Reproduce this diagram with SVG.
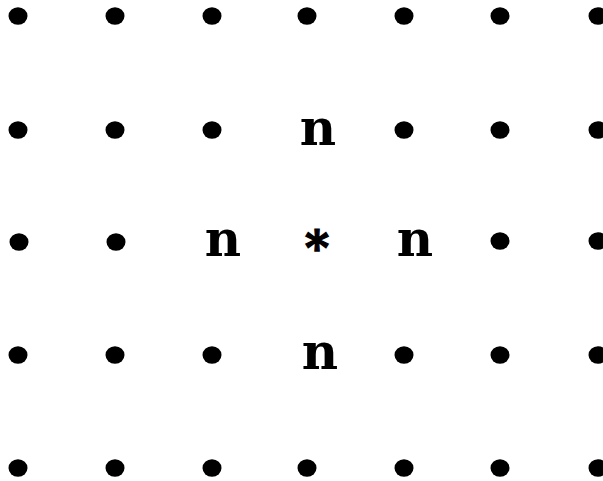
<svg xmlns="http://www.w3.org/2000/svg" width="603" height="481" viewBox="0 0 603 481">
<style>
.d{fill:#000}
.t{font-family:"DejaVu Serif","Liberation Serif",serif;font-weight:bold;font-size:50px;fill:#000;text-anchor:middle}
.a{font-family:"DejaVu Serif","Liberation Serif",serif;font-weight:bold;font-size:46px;fill:#000;text-anchor:middle;stroke:#000;stroke-width:1.5}
</style>
<rect width="603" height="481" fill="#fff"/>
<defs><ellipse id="dot" rx="9.5" ry="8.7" class="d"/></defs>
<g id="dots">
<use href="#dot" x="18" y="16"/><use href="#dot" x="115" y="16"/><use href="#dot" x="212" y="16"/><use href="#dot" x="307" y="16"/><use href="#dot" x="404" y="16"/><use href="#dot" x="500" y="16"/><use href="#dot" x="598" y="16"/>
<use href="#dot" x="18" y="130"/><use href="#dot" x="115" y="130"/><use href="#dot" x="212" y="130"/><use href="#dot" x="404" y="130"/><use href="#dot" x="500" y="130"/><use href="#dot" x="598" y="130"/>
<use href="#dot" x="19" y="242"/><use href="#dot" x="116" y="242"/><use href="#dot" x="500" y="241"/><use href="#dot" x="598" y="241"/>
<use href="#dot" x="18" y="355"/><use href="#dot" x="115" y="355"/><use href="#dot" x="212" y="355"/><use href="#dot" x="404" y="355"/><use href="#dot" x="500" y="355"/><use href="#dot" x="598" y="355"/>
<use href="#dot" x="18" y="468"/><use href="#dot" x="115" y="468"/><use href="#dot" x="212" y="468"/><use href="#dot" x="307" y="468"/><use href="#dot" x="404" y="468"/><use href="#dot" x="500" y="468"/><use href="#dot" x="598" y="468"/>
</g>
<g id="n-top"><text class="t" x="318" y="145">n</text></g>
<g id="n-left"><text class="t" x="223" y="256">n</text></g>
<g id="center"><text class="a" x="317" y="264">*</text></g>
<g id="n-right"><text class="t" x="415" y="256">n</text></g>
<g id="n-bottom"><text class="t" x="320" y="369">n</text></g>
</svg>
